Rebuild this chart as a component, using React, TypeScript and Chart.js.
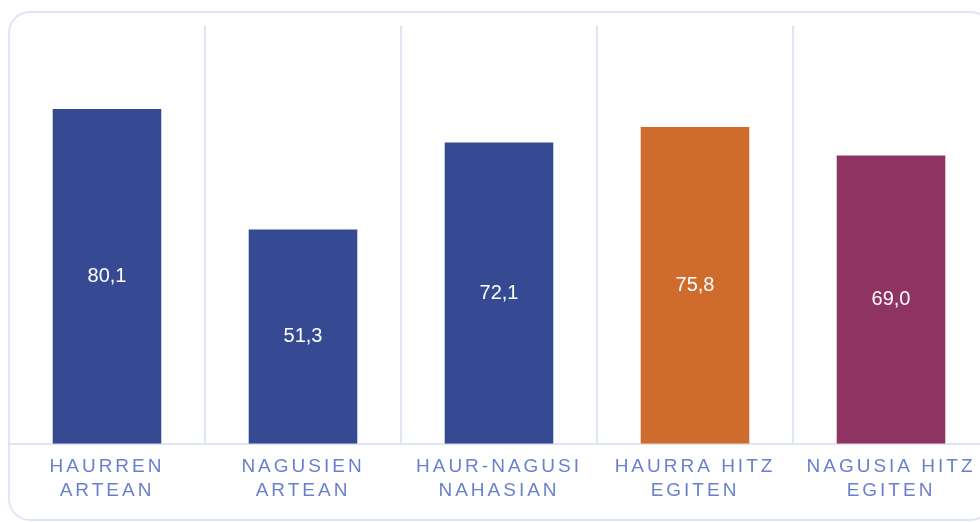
import React, { useEffect, useRef } from "react";
import { Chart, registerables } from "chart.js";

Chart.register(...registerables);

const categories: string[][] = [
  ["HAURREN", "ARTEAN"],
  ["NAGUSIEN", "ARTEAN"],
  ["HAUR-NAGUSI", "NAHASIAN"],
  ["HAURRA HITZ", "EGITEN"],
  ["NAGUSIA HITZ", "EGITEN"],
];
const values: number[] = [80.1, 51.3, 72.1, 75.8, 69.0];
const barColors: string[] = ["#354a93", "#354a93", "#354a93", "#d06b2e", "#8f3363"];

const FONT = "'Liberation Sans', Arial, Helvetica, sans-serif";
const LINE = "#e0e5f5";

const spacingPlugin = {
  id: "spacing",
  beforeDraw(chart: any) {
    chart.ctx.letterSpacing = "3px";
  },
  beforeDatasetsDraw(chart: any) {
    chart.ctx.letterSpacing = "0px";
  },
};

const valueLabels = {
  id: "valueLabels",
  afterDatasetsDraw(chart: any) {
    const ctx = chart.ctx;
    const meta = chart.getDatasetMeta(0);
    ctx.save();
    ctx.letterSpacing = "0px";
    ctx.fillStyle = "#ffffff";
    ctx.font = `20px ${FONT}`;
    ctx.textAlign = "center";
    ctx.textBaseline = "middle";
    meta.data.forEach((bar: any, i: number) => {
      const v = values[i];
      const txt = v.toFixed(1).replace(".", ",");
      ctx.fillText(txt, bar.x, (bar.y + bar.base) / 2);
    });
    ctx.restore();
  },
};

export default function App() {
  const ref = useRef<HTMLCanvasElement | null>(null);
  useEffect(() => {
    if (!ref.current) return;
    const chart = new Chart(ref.current, {
      type: "bar",
      data: {
        labels: categories,
        datasets: [
          {
            data: values,
            backgroundColor: barColors,
            borderWidth: 0,
            barPercentage: 1,
            categoryPercentage: 0.554,
          },
        ],
      },
      options: {
        animation: false,
        responsive: false,
        maintainAspectRatio: false,
        layout: { padding: { top: 6, bottom: 6, left: 0, right: 0 } },
        plugins: { legend: { display: false }, tooltip: { enabled: false } },
        scales: {
          x: {
            grid: { color: LINE, lineWidth: 2, drawTicks: false, offset: true },
            border: { color: LINE, width: 2 },
            ticks: {
              color: "#6a80cf",
              font: { family: FONT, size: 19, lineHeight: 1.22 },
              padding: 12,
              autoSkip: false,
              maxRotation: 0,
            },
          },
          y: { display: false, min: 0, max: 100 },
        },
      },
      plugins: [spacingPlugin, valueLabels],
    });
    return () => chart.destroy();
  }, []);

  return (
    <div
      style={{
        position: "fixed",
        left: 0,
        top: 0,
        width: 980,
        height: 522,
        overflow: "hidden",
        background: "#ffffff",
      }}
    >
      <div
        style={{
          position: "absolute",
          left: 8,
          top: 11,
          width: 984,
          height: 510,
          border: `2px solid ${LINE}`,
          borderRadius: 22,
          boxSizing: "border-box",
        }}
      />
      <canvas
        ref={ref}
        width={980}
        height={500}
        style={{ position: "absolute", left: 9, top: 20, width: 980, height: 500 }}
      />
    </div>
  );
}
